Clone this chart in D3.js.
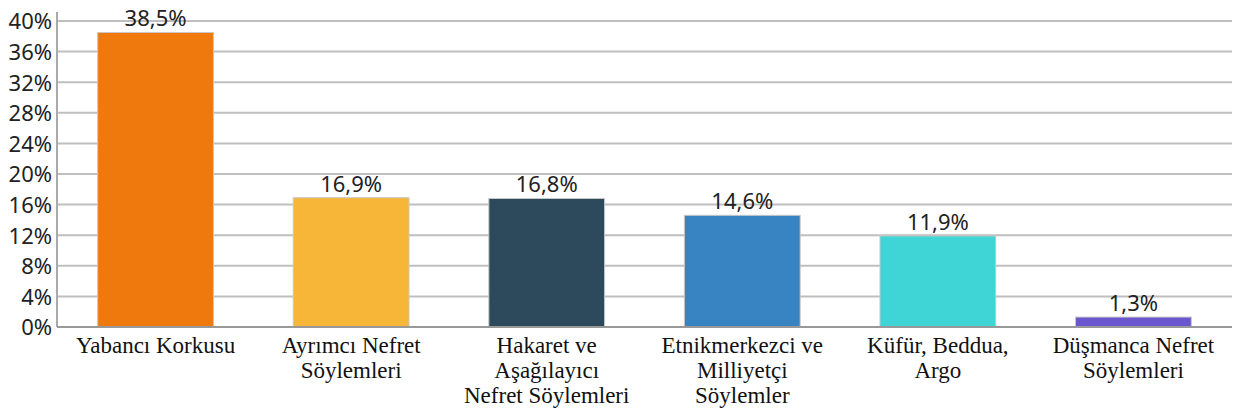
<!DOCTYPE html>
<html>
<head>
<meta charset="utf-8">
<script src="https://cdn.jsdelivr.net/npm/d3@7"></script>
<style>
  body { margin: 0; background: #fff; }
</style>
</head>
<body>
<div id="chart"></div>
<script>
// chart data
const categories = [
  ["Yabancı Korkusu"],
  ["Ayrımcı Nefret", "Söylemleri"],
  ["Hakaret ve", "Aşağılayıcı", "Nefret Söylemleri"],
  ["Etnikmerkezci ve", "Milliyetçi", "Söylemler"],
  ["Küfür, Beddua,", "Argo"],
  ["Düşmanca Nefret", "Söylemleri"]
];
const values = [38.5, 16.9, 16.8, 14.6, 11.9, 1.3];
const barColors = ["#f0790e", "#f8b638", "#2c4a5c", "#3884c2", "#3fd4d5", "#6a57cf"];
const yTicks = [0, 4, 8, 12, 16, 20, 24, 28, 32, 36, 40];

const width = 1233, height = 417;
const margin = { top: 21, right: 1, bottom: 90, left: 57 };
const innerW = width - margin.left - margin.right;
const innerH = height - margin.top - margin.bottom;

const svg = d3.select("#chart").append("svg")
  .attr("width", width)
  .attr("height", height);

const g = svg.append("g")
  .attr("transform", `translate(${margin.left},${margin.top})`);

const x = d3.scaleBand()
  .domain(d3.range(values.length))
  .range([0, innerW])
  .paddingInner(0.408)
  .paddingOuter(0.208);

const y = d3.scaleLinear()
  .domain([0, 40])
  .range([innerH, 0]);

// gridlines
g.append("g")
  .selectAll("line")
  .data(yTicks)
  .join("line")
  .attr("x1", 0)
  .attr("x2", innerW)
  .attr("y1", d => y(d))
  .attr("y2", d => y(d))
  .style("stroke", "#bfbfbf")
  .style("stroke-width", "2px");

// y axis
const yAxis = g.append("g")
  .call(d3.axisLeft(y).tickValues(yTicks).tickSize(0).tickPadding(5).tickFormat(d => d + "%"));
yAxis.select(".domain").remove();
yAxis.selectAll("text")
  .attr("dy", "0.36em")
  .style("font-family", "'Noto Sans', 'Open Sans', sans-serif")
  .style("font-size", "22px")
  .style("fill", "#222");

g.append("line")
  .attr("x1", 0).attr("x2", 0)
  .attr("y1", -9).attr("y2", innerH)
  .style("stroke", "#aaaaaa")
  .style("stroke-width", "2px");

// bars
g.selectAll(".bar")
  .data(values)
  .join("rect")
  .attr("class", "bar")
  .attr("x", (d, i) => x(i))
  .attr("y", d => y(d))
  .attr("width", x.bandwidth())
  .attr("height", d => innerH - y(d))
  .style("fill", (d, i) => barColors[i])
  .style("stroke", "#c8c8c8")
  .style("stroke-width", "1px");

// value labels
g.selectAll(".val")
  .data(values)
  .join("text")
  .attr("class", "val")
  .attr("x", (d, i) => x(i) + x.bandwidth() / 2)
  .attr("y", d => y(d) - 6)
  .attr("text-anchor", "middle")
  .style("font-family", "'Noto Sans', 'Open Sans', sans-serif")
  .style("font-size", "22px")
  .style("fill", "#222")
  .text(d => d.toFixed(1).replace(".", ",") + "%");

// baseline
g.append("line")
  .attr("x1", 0).attr("x2", innerW)
  .attr("y1", innerH).attr("y2", innerH)
  .style("stroke", "#999")
  .style("stroke-width", "2px");

// category labels
const catLabels = g.selectAll(".cat")
  .data(categories)
  .join("text")
  .attr("class", "cat")
  .attr("transform", (d, i) => `translate(${x(i) + x.bandwidth() / 2},${innerH + 26})`)
  .attr("text-anchor", "middle")
  .style("font-family", "'Liberation Serif', 'Times New Roman', serif")
  .style("font-size", "23px")
  .style("fill", "#111");

catLabels.selectAll("tspan")
  .data(d => d)
  .join("tspan")
  .attr("x", 0)
  .attr("y", (d, i) => i * 25)
  .text(d => d);
</script>
</body>
</html>
